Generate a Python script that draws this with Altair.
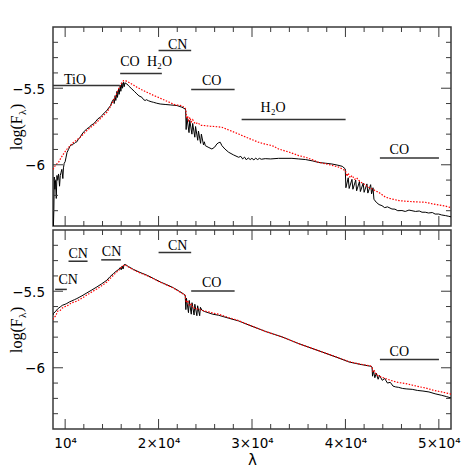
import altair as alt
import pandas as pd

FONT = "Liberation Serif"
TICKFONT = "DejaVu Sans"
XDOM = [8700, 51300]
YDOM = [-6.4, -5.1]
W, H = 398, 199

# ---------------- data: upper panel ----------------
top_black_wl = [8720, 8790, 8840, 8900, 8960, 9050, 9120, 9200, 9293, 9350, 9400, 9480, 9560, 9647, 9700,
                9754, 9820, 9900, 10000, 10100, 10200, 10364, 10500, 10650, 10800, 10899, 11000, 11100, 11253,
                11400, 11606, 11800, 12000, 12323, 12600, 12800, 13041, 13300, 13500, 13747, 14000, 14200,
                14465, 14700, 14850, 15000, 15150, 15200, 15250, 15353, 15420, 15550, 15600, 15718, 15780,
                15900, 15960, 16080, 16140, 16253, 16320, 16400, 16606, 16800, 17142, 17400, 17677, 17900,
                18212, 18400, 18566, 18700, 18930, 19200, 19465, 19800, 20172, 20700, 21243, 21960, 22495,
                22848, 22900, 22950, 23030, 23260, 23340, 23570, 23650, 23880, 23960, 24190, 24270, 24500,
                24580, 24810, 24900, 25000, 25300, 25707, 26000, 26242, 26450, 26600, 26778, 27100, 27495,
                28000, 28566, 28800, 29000, 29200, 29400, 29600, 29800, 29990, 30200, 30400, 30600, 30800,
                31000, 31414, 32000, 32849, 34273, 35000, 35740, 36500, 37132, 37881, 38556, 39200, 39658,
                39980, 40050, 40300, 40400, 40700, 40800, 41100, 41200, 41500, 41600, 41900, 42000, 42300,
                42400, 42700, 42800, 42950, 43050, 43300, 43600, 43910, 44200, 44500, 44980, 45300, 45600,
                46050, 46400, 46800, 47121, 47500, 47900, 48200, 48545, 48900, 49300, 49600, 49980, 50300,
                50700, 51000, 51300]
top_black_fx = [-6.45, -6.30, -6.08, -6.16, -6.10, -6.22, -6.07, -6.10, -6.06, -6.10, -6.14, -6.07, -6.05,
                -6.03, -6.06, -6.09, -6.02, -5.99, -5.98, -5.95, -5.92, -5.90, -5.88, -5.87, -5.87, -5.86,
                -5.86, -5.855, -5.85, -5.835, -5.82, -5.80, -5.785, -5.765, -5.755, -5.74, -5.733, -5.715,
                -5.70, -5.69, -5.675, -5.66, -5.646, -5.625, -5.615, -5.59, -5.575, -5.57, -5.60, -5.548,
                -5.58, -5.52, -5.56, -5.505, -5.54, -5.48, -5.52, -5.465, -5.50, -5.461, -5.49, -5.465,
                -5.472, -5.485, -5.505, -5.52, -5.537, -5.55, -5.559, -5.575, -5.58, -5.575, -5.582, -5.588,
                -5.592, -5.598, -5.603, -5.606, -5.609, -5.613, -5.624, -5.635, -5.645, -5.77, -5.69, -5.79,
                -5.71, -5.80, -5.73, -5.82, -5.75, -5.84, -5.78, -5.86, -5.80, -5.87, -5.85, -5.875, -5.885,
                -5.897, -5.885, -5.864, -5.855, -5.853, -5.875, -5.897, -5.918, -5.935, -5.951, -5.945,
                -5.962, -5.950, -5.968, -5.955, -5.966, -5.958, -5.968, -5.957, -5.966, -5.958, -5.964,
                -5.960, -5.962, -5.958, -5.958, -5.962, -5.966, -5.975, -5.985, -5.990, -5.995, -6.003,
                -6.010, -6.027, -6.15, -6.085, -6.155, -6.095, -6.16, -6.10, -6.17, -6.11, -6.175, -6.12,
                -6.18, -6.125, -6.185, -6.13, -6.19, -6.15, -6.225, -6.245, -6.26, -6.267, -6.28, -6.275,
                -6.289, -6.29, -6.30, -6.299, -6.305, -6.296, -6.300, -6.305, -6.302, -6.310, -6.310,
                -6.315, -6.312, -6.322, -6.322, -6.328, -6.332, -6.336, -6.340]

top_red_wl = [8700, 9000, 9293, 9550, 9829, 10100, 10364, 10650, 10899, 11250, 11606, 12000, 12323, 12850,
              13394, 13900, 14465, 14800, 15182, 15450, 15718, 16000, 16253, 16500, 16788, 17200, 17677,
              18200, 18748, 19400, 20172, 20900, 21778, 22495, 22848, 22920, 23000, 23100, 23212, 23350,
              23500, 23650, 23919, 24200, 24500, 24990, 25500, 26000, 26778, 27600, 28566, 29600, 30707,
              31400, 32164, 32849, 34000, 34990, 35740, 36500, 37132, 38200, 39305, 40000, 40150, 40300,
              40500, 40700, 41000, 41200, 41446, 41800, 42100, 42400, 42871, 43200, 43556, 44306, 44980,
              45730, 46400, 47154, 47800, 48545, 49300, 50012, 50700, 51300]
top_red_fx = [-6.03, -6.00, -5.984, -5.955, -5.929, -5.905, -5.886, -5.868, -5.853, -5.838, -5.820, -5.797,
              -5.776, -5.75, -5.722, -5.69, -5.657, -5.625, -5.580, -5.545, -5.505, -5.47, -5.450, -5.452,
              -5.461, -5.475, -5.493, -5.510, -5.526, -5.545, -5.565, -5.585, -5.609, -5.613, -5.631,
              -5.64, -5.70, -5.68, -5.711, -5.69, -5.72, -5.705, -5.733, -5.725, -5.742, -5.744, -5.748,
              -5.750, -5.755, -5.775, -5.799, -5.826, -5.853, -5.865, -5.875, -5.897, -5.918, -5.940,
              -5.951, -5.968, -5.984, -5.998, -6.016, -6.038, -6.075, -6.055, -6.085, -6.07, -6.095,
              -6.085, -6.103, -6.12, -6.13, -6.145, -6.158, -6.170, -6.180, -6.212, -6.224, -6.234,
              -6.238, -6.241, -6.243, -6.245, -6.255, -6.263, -6.270, -6.280]

top_bar_start = [8700, 15890, 20000, 23490, 28890, 43690]
top_bar_end = [15850, 20350, 23490, 28140, 40020, 50010]
top_bar_level = [-5.482, -5.404, -5.254, -5.508, -5.705, -5.955]
top_label_text = ["TiO", "CO", "H₂O", "CN", "CO", "H₂O", "CO"]
top_label_wl = [9880, 15890, 18750, 21000, 24640, 30920, 44730]
top_label_level = [-5.472, -5.352, -5.352, -5.243, -5.482, -5.657, -5.931]

# ---------------- data: lower panel ----------------
bot_black_wl = [8700, 8758, 9000, 9200, 9465, 9700, 10000, 10182, 10450, 10717, 11000, 11253, 11800, 12323,
                12850, 13394, 13900, 14465, 14800, 15182, 15450, 15718, 15900, 16000, 16100, 16200, 16300,
                16424, 16800, 17324, 18000, 18748, 19500, 20172, 20900, 21606, 22200, 22677, 22850, 22920,
                22980, 23200, 23280, 23500, 23580, 23800, 23880, 24100, 24180, 24400, 24480, 24637, 24900,
                25300, 25800, 26425, 27500, 28566, 30000, 31500, 33234, 35000, 37517, 39000, 40376, 41500,
                42700, 42850, 42900, 43000, 43150, 43300, 43500, 43650, 43941, 44200, 44500, 44800, 45100,
                45376, 45700, 46100, 46500, 47154, 47700, 48300, 48942, 49600, 50300, 50800, 51300]
bot_black_fx = [-5.655, -5.645, -5.63, -5.615, -5.603, -5.592, -5.585, -5.580, -5.570, -5.563, -5.555,
                -5.548, -5.530, -5.511, -5.492, -5.472, -5.452, -5.428, -5.405, -5.384, -5.370, -5.358,
                -5.345, -5.36, -5.335, -5.355, -5.328, -5.325, -5.340, -5.358, -5.377, -5.395, -5.418,
                -5.439, -5.458, -5.478, -5.500, -5.518, -5.526, -5.62, -5.545, -5.64, -5.56, -5.65, -5.575,
                -5.655, -5.585, -5.66, -5.595, -5.66, -5.605, -5.624, -5.632, -5.640, -5.650, -5.657,
                -5.676, -5.694, -5.729, -5.764, -5.799, -5.842, -5.897, -5.930, -5.962, -5.977, -5.990,
                -5.995, -6.055, -6.02, -6.065, -6.035, -6.075, -6.05, -6.082, -6.07, -6.10, -6.095, -6.12,
                -6.125, -6.128, -6.135, -6.138, -6.141, -6.148, -6.152, -6.158, -6.170, -6.180, -6.188,
                -6.197]

bot_red_wl = [8700, 8758, 9000, 9200, 9465, 9700, 10000, 10182, 10450, 10717, 11000, 11253, 11800, 12323,
              12850, 13394, 13900, 14465, 14800, 15182, 15450, 15718, 16000, 16253, 16424, 16800, 17324,
              18000, 18748, 19500, 20172, 20900, 21606, 22200, 22677, 22850, 22950, 23100, 23300, 23500,
              23700, 24000, 24500, 25000, 25800, 26425, 27500, 28566, 30000, 31500, 33234, 35000, 37517,
              39000, 40376, 41500, 42700, 42871, 42950, 43100, 43300, 43600, 44306, 45000, 45700, 46447,
              47200, 47900, 48588, 49500, 50300, 51300]
bot_red_fx = [-5.685, -5.676, -5.66, -5.63, -5.625, -5.61, -5.60, -5.597, -5.585, -5.575, -5.57, -5.565,
              -5.545, -5.525, -5.505, -5.485, -5.465, -5.44, -5.418, -5.395, -5.378, -5.365, -5.345,
              -5.332, -5.328, -5.342, -5.360, -5.380, -5.398, -5.420, -5.441, -5.460, -5.480, -5.502,
              -5.520, -5.528, -5.575, -5.56, -5.595, -5.585, -5.61, -5.612, -5.622, -5.630, -5.642,
              -5.650, -5.672, -5.692, -5.728, -5.764, -5.799, -5.842, -5.897, -5.929, -5.960, -5.975,
              -5.988, -6.000, -6.03, -6.02, -6.045, -6.055, -6.071, -6.085, -6.097, -6.103, -6.114,
              -6.124, -6.132, -6.148, -6.158, -6.172]

bot_bar_start = [8930, 10360, 13860, 20000, 23490, 43690]
bot_bar_end = [10180, 12400, 15960, 23490, 28140, 50010]
bot_bar_level = [-5.488, -5.304, -5.295, -5.247, -5.498, -5.946]
bot_label_text = ["CN", "CN", "CN", "CN", "CO", "CO"]
bot_label_wl = [9290, 10360, 13930, 21000, 24640, 44730]
bot_label_level = [-5.450, -5.280, -5.269, -5.232, -5.472, -5.925]

# ---------------- ticks ----------------
x_major = [10000, 20000, 30000, 40000, 50000]
x_minor = [12000, 14000, 16000, 18000, 22000, 24000, 26000, 28000, 32000, 34000, 36000, 38000,
           42000, 44000, 46000, 48000]
y_major = [-6.0, -5.5]
y_major_text = ["−6", "−5.5"]
y_minor = [-6.3, -6.2, -6.1, -5.9, -5.8, -5.7, -5.6, -5.4, -5.3, -5.2]

FRAME = "#3a3a3a"

xs = alt.Scale(domain=XDOM, nice=False, zero=False)
ys = alt.Scale(domain=YDOM, nice=False, zero=False)

yaxis = alt.Axis(values=y_major, labels=False, ticks=False, domain=False, grid=False,
                 minExtent=43, maxExtent=43, title=None)
xaxis_bottom = alt.Axis(values=x_major,
                        labelExpr="datum.value == 10000 ? '10⁴' : format(datum.value / 10000, 'd') + '×10⁴'",
                        ticks=False, domain=False, grid=False, labelFont=TICKFONT, labelFontSize=13.5,
                        labelColor="black", labelPadding=7, title="λ", titleFont=TICKFONT, titleFontSize=15,
                        titleFontWeight="normal", titleColor="black", titlePadding=3)


def panel(bwl, bfx, rwl, rfx, bs, be, bl, lt, lw, ll, xaxis):
    def X(f):
        return alt.X(f, type="quantitative", scale=xs, axis=xaxis)

    def Y(f):
        return alt.Y(f, type="quantitative", scale=ys, axis=yaxis)

    black = alt.Chart(pd.DataFrame({"wl": bwl, "fx": bfx})).mark_line(
        color="black", strokeWidth=1, clip=True).encode(x=X("wl"), y=Y("fx"))
    red = alt.Chart(pd.DataFrame({"wl": rwl, "fx": rfx})).mark_line(
        color="#ff0000", strokeWidth=1.2, strokeDash=[1.5, 1.5], clip=True).encode(x=X("wl"), y=Y("fx"))
    bars = alt.Chart(pd.DataFrame({"a": bs, "b": be, "lev": bl})).mark_rule(
        color="#333333", strokeWidth=1.5).encode(x=X("a"), x2=alt.X2("b"), y=Y("lev"))
    labels = alt.Chart(pd.DataFrame({"t": lt, "w": lw, "lev": ll})).mark_text(
        align="left", baseline="alphabetic", font=FONT, fontSize=14, color="black").encode(
        x=X("w"), y=Y("lev"), text="t:N")

    xmaj = pd.DataFrame({"v": x_major})
    xmin = pd.DataFrame({"v": x_minor})
    ymaj = pd.DataFrame({"v": y_major, "s": y_major_text})
    ymin = pd.DataFrame({"v": y_minor})
    tick = dict(color=FRAME, strokeWidth=1)
    ticks = [
        alt.Chart(xmaj).mark_rule(**tick).encode(x=X("v"), y=alt.value(0), y2=alt.value(10)),
        alt.Chart(xmaj).mark_rule(**tick).encode(x=X("v"), y=alt.value(H), y2=alt.value(H - 10)),
        alt.Chart(xmin).mark_rule(**tick).encode(x=X("v"), y=alt.value(0), y2=alt.value(5)),
        alt.Chart(xmin).mark_rule(**tick).encode(x=X("v"), y=alt.value(H), y2=alt.value(H - 5)),
        alt.Chart(ymaj).mark_rule(**tick).encode(y=Y("v"), x=alt.value(0), x2=alt.value(10)),
        alt.Chart(ymaj).mark_rule(**tick).encode(y=Y("v"), x=alt.value(W), x2=alt.value(W - 10)),
        alt.Chart(ymin).mark_rule(**tick).encode(y=Y("v"), x=alt.value(0), x2=alt.value(5)),
        alt.Chart(ymin).mark_rule(**tick).encode(y=Y("v"), x=alt.value(W), x2=alt.value(W - 5)),
    ]
    ylabels = alt.Chart(ymaj).mark_text(
        align="right", baseline="middle", dy=1.5, font=TICKFONT, fontSize=13.5, color="black").encode(
        y=Y("v"), x=alt.value(-8), text="s:N")

    t1 = alt.Chart(pd.DataFrame({"s": ["log(F"]})).mark_text(
        angle=270, align="left", baseline="alphabetic", font=FONT, fontSize=16, color="black").encode(
        text="s:N", x=alt.value(-31), y=alt.value(123))
    t2 = alt.Chart(pd.DataFrame({"s": ["λ"]})).mark_text(
        angle=270, align="left", baseline="alphabetic", font=FONT, fontSize=11, color="black").encode(
        text="s:N", x=alt.value(-27.5), y=alt.value(88))
    t3 = alt.Chart(pd.DataFrame({"s": [")"]})).mark_text(
        angle=270, align="left", baseline="alphabetic", font=FONT, fontSize=16, color="black").encode(
        text="s:N", x=alt.value(-31), y=alt.value(82))

    return alt.layer(black, red, bars, labels, *ticks, ylabels, t1, t2, t3).properties(width=W, height=H)


top = panel(top_black_wl, top_black_fx, top_red_wl, top_red_fx, top_bar_start, top_bar_end, top_bar_level,
            top_label_text, top_label_wl, top_label_level, None)
bot = panel(bot_black_wl, bot_black_fx, bot_red_wl, bot_red_fx, bot_bar_start, bot_bar_end, bot_bar_level,
            bot_label_text, bot_label_wl, bot_label_level, xaxis_bottom)

chart = alt.vconcat(top, bot, spacing=0).properties(
    padding={"left": 0, "top": 17, "right": 5, "bottom": 5},
    background="white",
).configure_view(stroke=FRAME, strokeWidth=1.5)

chart.save("out.html", embed_options={"renderer": "svg", "actions": False})
